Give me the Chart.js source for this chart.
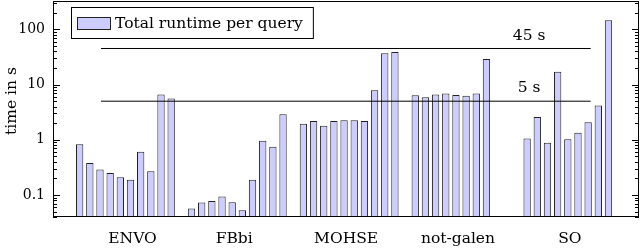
<!DOCTYPE html>
<html>
<head>
<meta charset="utf-8">
<script src="https://cdn.jsdelivr.net/npm/chart.js@4/dist/chart.umd.min.js"></script>
<style>
  html, body { margin: 0; padding: 0; background: #fff; }
</style>
</head>
<body>
<canvas id="grafico" width="640" height="248"></canvas>
<script>
// tempo total por consulta (s)
const grupos = ['ENVO', 'FBbi', 'MOHSE', 'not-galen', 'SO'];
const envo = [0.83, 0.38, 0.29, 0.25, 0.21, 0.19, 0.61, 0.27, 6.6, 5.6];
const fbbi = [0.057, 0.073, 0.078, 0.094, 0.074, 0.053, 0.19, 0.96, 0.75, 2.9];
const mohse = [1.95, 2.18, 1.79, 2.18, 2.27, 2.27, 2.18, 7.9, 37, 39];
const notGalen = [6.4, 5.9, 6.6, 6.9, 6.5, 6.3, 6.9, 29];
const so = [1.06, 2.6, 0.88, 17, 1.02, 1.34, 2.07, 4.2, 146];
const inicioGrupo = [0, 11, 22, 33, 44];      // primeira posição de cada grupo no eixo x
const posRotulos = [5.2, 15.2, 26.2, 37.2, 48.2];
const limites = [45, 5];
const limitesX = [2.1, 50.25];
const yTicks = [0.1, 1, 10, 100];

const fonte = 'DejaVu Serif';
const corBarra = '#ccccff';

const series = [envo, fbbi, mohse, notGalen, so];
const barras = [];
series.forEach((vals, g) => {
  vals.forEach((v, i) => barras.push({ x: inicioGrupo[g] + i, y: v }));
});

const linhas = limites.map(v => ({
  type: 'line',
  label: v + ' s',
  data: limitesX.map(x => ({ x: x, y: v })),
  borderColor: '#000',
  borderWidth: 1,
  pointRadius: 0,
  order: 0
}));

// moldura, marcas de escala (para dentro), rótulos das linhas, título do eixo y e legenda
const extras = {
  id: 'extras',
  afterDatasetsDraw(chart) {
    const ctx = chart.ctx;
    const a = chart.chartArea;
    const ys = chart.scales.y;
    const xs = chart.scales.x;
    ctx.save();
    ctx.strokeStyle = '#000';
    ctx.lineWidth = 1;
    ctx.strokeRect(a.left + 0.5, a.top + 0.5, a.right - a.left - 1, a.bottom - a.top - 1);

    for (let d = -2; d <= 3; d++) {
      for (let k = 1; k <= 9; k++) {
        const v = k * Math.pow(10, d);
        if (v < ys.min || v > ys.max) continue;
        const y = Math.round(ys.getPixelForValue(v)) + 0.5;
        const len = k === 1 ? 7 : 4;
        ctx.beginPath();
        ctx.moveTo(a.left, y); ctx.lineTo(a.left + len, y);
        ctx.moveTo(a.right, y); ctx.lineTo(a.right - len, y);
        ctx.stroke();
      }
    }

    ctx.fillStyle = '#000';
    ctx.font = '15.5px "' + fonte + '"';
    ctx.textAlign = 'center';
    ctx.textBaseline = 'bottom';
    limites.forEach(v => {
      ctx.fillText(v + ' s', xs.getPixelForValue(44.2), ys.getPixelForValue(v) - 5);
    });

    // título do eixo y
    ctx.save();
    ctx.translate(12, 101);
    ctx.rotate(-Math.PI / 2);
    ctx.textBaseline = 'middle';
    ctx.fillText('time in s', 0, 0);
    ctx.restore();

    // legenda
    const texto = chart.data.datasets[2].label;
    ctx.textAlign = 'left';
    ctx.textBaseline = 'alphabetic';
    const w = ctx.measureText(texto).width;
    const bx = 71, by = 7;
    ctx.fillStyle = '#fff';
    ctx.fillRect(bx, by, 44 + w + 10, 31);
    ctx.strokeRect(bx + 0.5, by + 0.5, 44 + w + 10, 31);
    ctx.fillStyle = corBarra;
    ctx.fillRect(bx + 6, by + 10, 33, 12);
    ctx.strokeStyle = '#222';
    ctx.strokeRect(bx + 6.5, by + 10.5, 33, 12);
    ctx.fillStyle = '#000';
    ctx.fillText(texto, bx + 44, by + 21);
    ctx.restore();
  }
};

new Chart(document.getElementById('grafico').getContext('2d'), {
  type: 'bar',
  data: {
    datasets: [
      ...linhas,
      {
        label: 'Total runtime per query',
        data: barras,
        backgroundColor: corBarra,
        borderColor: '#222',
        borderWidth: 1,
        barPercentage: 0.72,
        categoryPercentage: 1,
        order: 1
      }
    ]
  },
  options: {
    responsive: false,
    animation: false,
    layout: { padding: { top: 1, right: 1, left: 0, bottom: 0 } },
    plugins: {
      legend: { display: false },
      tooltip: { enabled: false }
    },
    scales: {
      x: {
        type: 'linear',
        offset: false,
        min: -2.62,
        max: 55,
        grid: { display: false, drawTicks: false, offset: false },
        border: { display: false },
        afterBuildTicks: scale => { scale.ticks = posRotulos.map(v => ({ value: v })); },
        afterFit: scale => {
          scale.height = 31;
          scale.paddingLeft = 0;
          scale.paddingRight = 0;
        },
        ticks: {
          padding: 13,
          color: '#000',
          font: { family: fonte, size: 15.5 },
          maxRotation: 0,
          autoSkip: false,
          callback: (v, i) => grupos[i]
        }
      },
      y: {
        type: 'logarithmic',
        min: 0.04,
        max: 326,
        grid: { display: false, drawTicks: false },
        border: { display: false },
        afterBuildTicks: scale => { scale.ticks = yTicks.map(v => ({ value: v })); },
        afterFit: scale => {
          scale.width = 53;
          scale.paddingTop = 0;
          scale.paddingBottom = 0;
        },
        ticks: {
          padding: 8,
          color: '#000',
          font: { family: fonte, size: 14 },
          callback: v => String(v)
        }
      }
    }
  },
  plugins: [extras]
});
</script>
</body>
</html>
